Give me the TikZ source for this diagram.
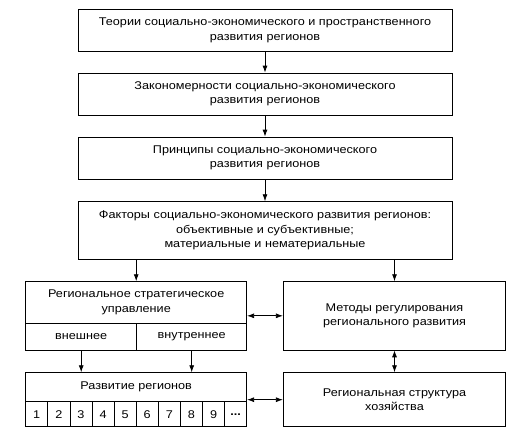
\documentclass[tikz,border=0pt]{standalone}
\usepackage{fontspec}
\setmainfont{Liberation Sans}[FakeStretch=1.13]
\usetikzlibrary{arrows.meta}

\begin{document}
\begin{tikzpicture}[x=1pt, y=-1pt,
  box/.style={draw, line width=0.8pt, align=center, inner sep=0pt, font=\fontsize{11.2}{14.3}\selectfont},
  arr/.style={-{Latex[length=7pt,width=5pt]}, line width=0.8pt},
  darr/.style={{Latex[length=7pt,width=5pt]}-{Latex[length=7pt,width=5pt]}, line width=0.8pt}]
\useasboundingbox (0,0) rectangle (524,434);
\node[box, minimum width=374pt, minimum height=41.7pt] (teor) at (265,30.2) {Теории социально-экономического и пространственного\\развития регионов};
\node[box, minimum width=374pt, minimum height=42pt] (zak) at (265,94) {Закономерности социально-экономического\\развития регионов};
\node[box, minimum width=374pt, minimum height=42pt] (prin) at (265,158) {Принципы социально-экономического\\развития регионов};
\node[box, minimum width=374pt, minimum height=57.3pt] (fakt) at (265,230.3) {Факторы социально-экономического развития регионов:\\объективные и субъективные;\\материальные и нематериальные};
\node[box, minimum width=221pt, minimum height=41.3pt] (strat) at (136.2,302.3) {Региональное стратегическое\\управление};
\node[box, minimum width=111pt, minimum height=27pt] (vnesh) at (81.2,336.5) {внешнее};
\node[box, minimum width=110pt, minimum height=27pt] (vnutr) at (191.7,336.5) {внутреннее};
\node[box, minimum width=221pt, minimum height=29pt] (razv) at (136.2,387.2) {Развитие регионов};
\foreach \i/\t in {1/1,2/2,3/3,4/4,5/5,6/6,7/7,8/8,9/9,10/\textbf{...}}
  \node[box, minimum width=22.1pt, minimum height=25pt] (c\i) at ({25.7+22.1*(\i-0.5)},414.2) {\t};
\node[box, minimum width=222.4pt, minimum height=68.3pt] (metod) at (394.5,315.8) {Методы регулирования\\регионального развития};
\node[box, minimum width=222.4pt, minimum height=54pt] (struk) at (394.5,399.7) {Региональная структура\\хозяйства};
\draw[arr] (teor) -- (zak);
\draw[arr] (zak) -- (prin);
\draw[arr] (prin) -- (fakt);
\draw[arr] (fakt.south -| strat.north) -- (strat.north);
\draw[arr] (fakt.south -| metod.north) -- (metod.north);
\draw[arr] (vnesh.south) -- (vnesh.south |- razv.north);
\draw[arr] (vnutr.south) -- (vnutr.south |- razv.north);
\draw[darr] (metod.west -| strat.east) -- (metod.west);
\draw[darr] (struk.west -| razv.east) -- (struk.west);
\draw[darr] (metod.south) -- (struk.north);
\end{tikzpicture}
\end{document}
